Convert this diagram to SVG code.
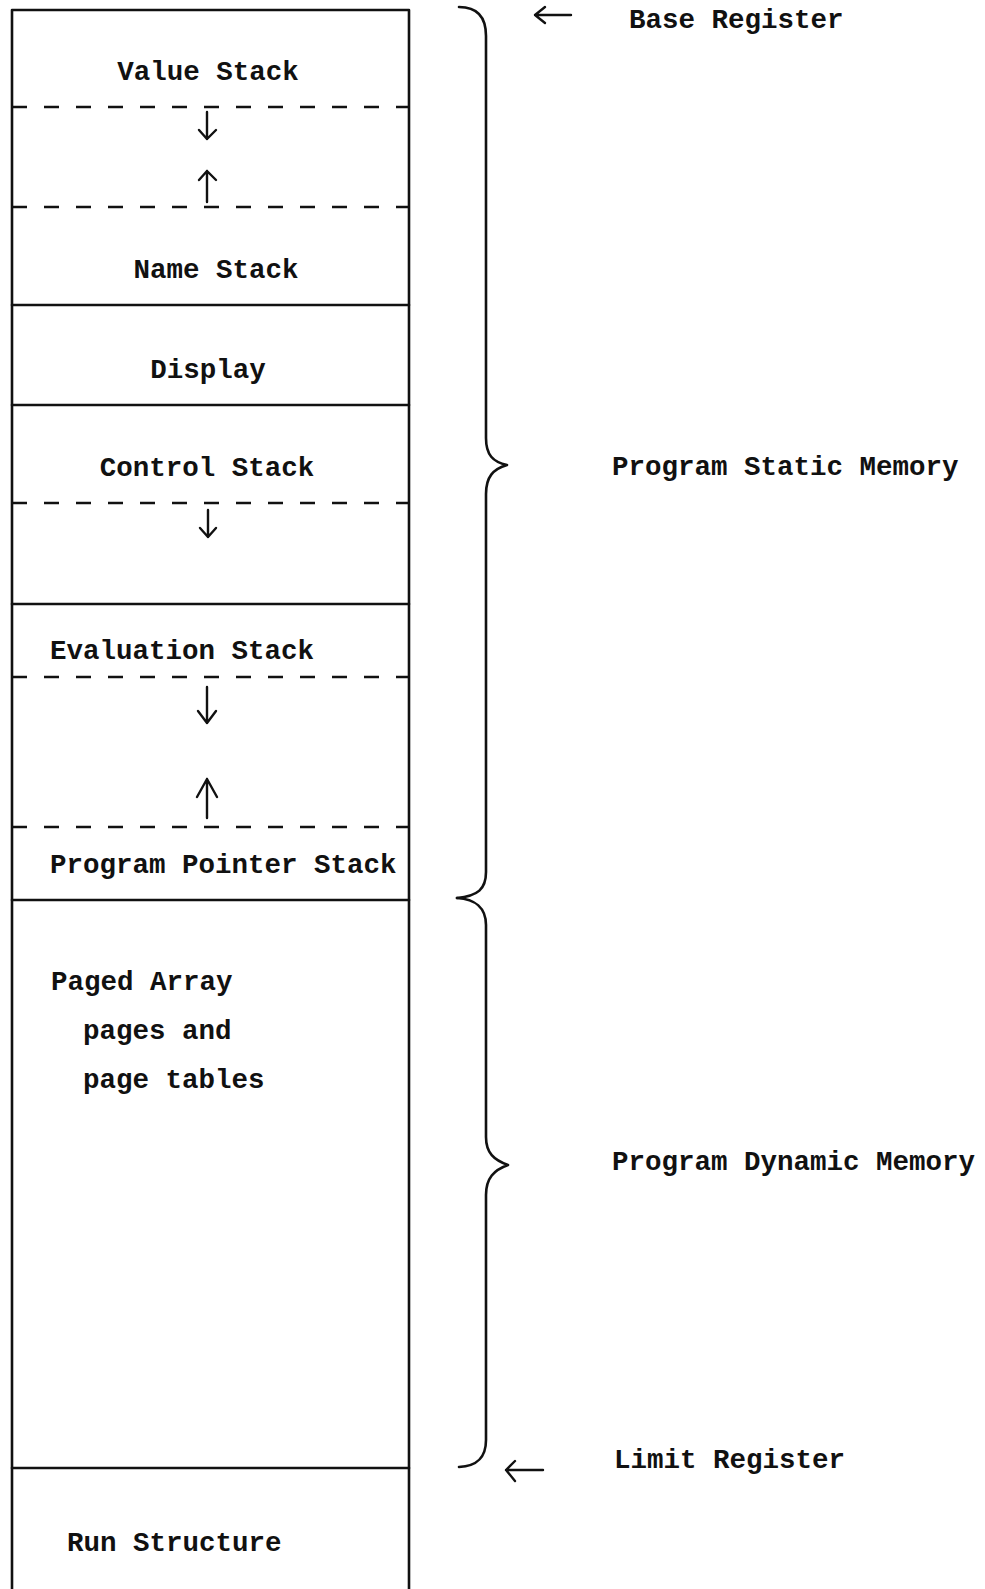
<svg xmlns="http://www.w3.org/2000/svg" width="985" height="1589" viewBox="0 0 985 1589">
<style>
.t{font-family:"Liberation Mono","DejaVu Sans Mono",monospace;font-size:27.5px;font-weight:bold;fill:#111}
.s{stroke:#111;stroke-width:2.6;fill:none;stroke-linecap:round;stroke-linejoin:round}
.d{stroke:#111;stroke-width:2.6;fill:none;stroke-dasharray:15 17}
.a{stroke:#111;stroke-width:2.4;fill:none;stroke-linecap:round;stroke-linejoin:round}
</style>
<rect width="985" height="1589" fill="#fff"/>
<g id="frame">
<path class="s" d="M12,1589 L12,10 L409,10 L409,1589"/>
</g>
<g id="value-stack">
<text class="t" x="208" y="80" text-anchor="middle">Value Stack</text>
</g>
<g id="name-stack">
<text class="t" x="216" y="278" text-anchor="middle">Name Stack</text>
</g>
<g id="display">
<line class="s" x1="12" y1="305" x2="409" y2="305"/>
<text class="t" x="208" y="378" text-anchor="middle">Display</text>
</g>
<g id="control-stack">
<line class="s" x1="12" y1="405" x2="409" y2="405"/>
<text class="t" x="207" y="476" text-anchor="middle">Control Stack</text>
</g>
<g id="evaluation-stack">
<line class="s" x1="12" y1="604" x2="409" y2="604"/>
<text class="t" x="50" y="659">Evaluation Stack</text>
</g>
<g id="program-pointer-stack">
<text class="t" x="50" y="873">Program Pointer Stack</text>
</g>
<g id="paged-array">
<line class="s" x1="12" y1="900" x2="409" y2="900"/>
<text class="t" x="51" y="990">Paged Array</text>
<text class="t" x="83" y="1039">pages and</text>
<text class="t" x="83" y="1088">page tables</text>
</g>
<g id="run-structure">
<line class="s" x1="12" y1="1468" x2="409" y2="1468"/>
<text class="t" x="67" y="1551">Run Structure</text>
</g>
<g id="base-register">
<text class="t" x="629" y="28">Base Register</text>
</g>
<g id="limit-register">
<text class="t" x="614" y="1468">Limit Register</text>
</g>
<g id="static-memory">
<text class="t" x="612" y="475">Program Static Memory</text>
</g>
<g id="dynamic-memory">
<text class="t" x="612" y="1170">Program Dynamic Memory</text>
</g>
<g id="connectors">
<line class="d" x1="12" y1="107" x2="409" y2="107"/>
<line class="d" x1="12" y1="207" x2="409" y2="207"/>
<line class="d" x1="12" y1="503" x2="409" y2="503"/>
<line class="d" x1="12" y1="677" x2="409" y2="677"/>
<line class="d" x1="12" y1="827" x2="409" y2="827"/>
<path class="a" d="M207,112 L207,139 M199,130 L207,139 L216,130"/>
<path class="a" d="M207,202 L207,171 M199,180 L207,171 L216,180"/>
<path class="a" d="M208,510 L208,537 M200,528 L208,537 L216,528"/>
<path class="a" d="M207,687 L207,723 M198,711 L207,723 L216,711"/>
<path class="a" d="M207,818 L207,779 M197,797 L207,779 L217,797"/>
<path class="a" d="M571,15 L535,15 M545,7 L535,15 L545,23"/>
<path class="a" d="M543,1470 L506,1470 M515,1461 L506,1470 L515,1481"/>
<path class="s" d="M459,7 C477,7 486,17 486,36 L486,438 C486,455 493,462 507,465 C493,469 486,477 486,494 L486,872 C486,889 478,896 457,898"/>
<path class="s" d="M457,898 C475,899 486,908 486,925 L486,1137 C486,1153 494,1160 508,1165 C494,1170 486,1178 486,1195 L486,1440 C486,1458 477,1466 459,1467"/>
</g>
</svg>
